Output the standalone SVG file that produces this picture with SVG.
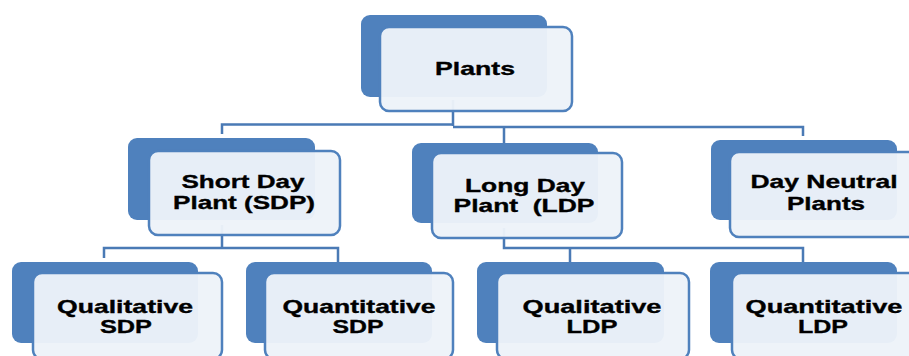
<svg xmlns="http://www.w3.org/2000/svg" width="909" height="356" viewBox="0 0 909 356">
<style>
.bg{fill:#fff}
.dk{fill:#4f81bd}
.lt{fill:#edf2f9;fill-opacity:0.96;stroke:#4f81bd;stroke-width:2.5}
.cn{fill:none;stroke:#4a7ab5;stroke-width:2.5}
text{font-family:"Liberation Sans",Arial,sans-serif;font-weight:bold;font-size:18.5px;fill:#000;stroke:#000;stroke-width:0.35;text-anchor:middle;white-space:pre}
</style>
<rect class="bg" x="0" y="0" width="909" height="356"/>
<g id="connectors">
<path class="cn" d="M453,100 V126 M222,134 V124.5 H453 M453,127 H803 V136 M504,127 V143"/>
<path class="cn" d="M222,225 V248 M104,258 V248 H338 V262"/>
<path class="cn" d="M504,228 V248 H803 V262 M570,248 V262"/>
</g>
<g id="plants">
<rect class="dk" x="361" y="15" width="186" height="82" rx="9"/>
<rect class="lt" x="380" y="27" width="192" height="84" rx="9"/>
<text x="475" y="75" textLength="80" lengthAdjust="spacingAndGlyphs">Plants</text>
</g>
<g id="sdp">
<rect class="dk" x="128" y="138" width="187" height="82" rx="9"/>
<rect class="lt" x="149" y="151" width="191" height="84" rx="9"/>
<text x="243" y="188" textLength="123" lengthAdjust="spacingAndGlyphs">Short Day</text>
<text x="244" y="209" textLength="142" lengthAdjust="spacingAndGlyphs">Plant (SDP)</text>
</g>
<g id="ldp">
<rect class="dk" x="412" y="143" width="186" height="80" rx="9"/>
<rect class="lt" x="432" y="153" width="190" height="85" rx="9"/>
<text x="525" y="192" textLength="120" lengthAdjust="spacingAndGlyphs">Long Day</text>
<text x="524" y="212" textLength="141" lengthAdjust="spacingAndGlyphs">Plant  (LDP</text>
</g>
<g id="dnp">
<rect class="dk" x="711" y="140" width="186" height="80" rx="9"/>
<rect class="lt" x="730" y="152" width="190" height="85" rx="9"/>
<text x="824" y="188" textLength="147" lengthAdjust="spacingAndGlyphs">Day Neutral</text>
<text x="826" y="210" textLength="78" lengthAdjust="spacingAndGlyphs">Plants</text>
</g>
<g id="qlsdp">
<rect class="dk" x="12" y="262" width="186" height="81" rx="9"/>
<rect class="lt" x="33" y="273" width="189" height="86" rx="9"/>
<text x="125" y="313" textLength="136" lengthAdjust="spacingAndGlyphs">Qualitative</text>
<text x="126" y="333" textLength="52" lengthAdjust="spacingAndGlyphs">SDP</text>
</g>
<g id="qnsdp">
<rect class="dk" x="246" y="262" width="186" height="81" rx="9"/>
<rect class="lt" x="265" y="273" width="188" height="86" rx="9"/>
<text x="359" y="313" textLength="153" lengthAdjust="spacingAndGlyphs">Quantitative</text>
<text x="358" y="333" textLength="51" lengthAdjust="spacingAndGlyphs">SDP</text>
</g>
<g id="qlldp">
<rect class="dk" x="477" y="262" width="187" height="81" rx="9"/>
<rect class="lt" x="497" y="273" width="192" height="86" rx="9"/>
<text x="592" y="313" textLength="139" lengthAdjust="spacingAndGlyphs">Qualitative</text>
<text x="592" y="333" textLength="51" lengthAdjust="spacingAndGlyphs">LDP</text>
</g>
<g id="qnldp">
<rect class="dk" x="710" y="262" width="187" height="81" rx="9"/>
<rect class="lt" x="732" y="273" width="190" height="86" rx="9"/>
<text x="824" y="313" textLength="157" lengthAdjust="spacingAndGlyphs">Quantitative</text>
<text x="823" y="333" textLength="50" lengthAdjust="spacingAndGlyphs">LDP</text>
</g>
</svg>
